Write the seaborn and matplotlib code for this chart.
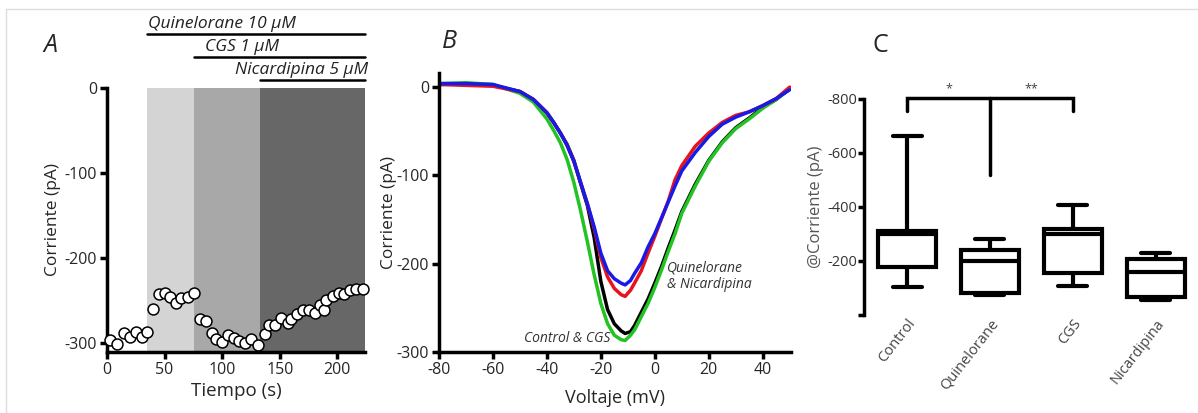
import numpy as np
import pandas as pd
import matplotlib
matplotlib.use("Agg")
import matplotlib.pyplot as plt
from matplotlib.patches import Rectangle
import seaborn as sns

# ---------------- data ----------------
# Panel A: time course
time_s = [3, 9, 15, 20, 25, 30, 35, 40, 45, 50, 55, 60, 64, 70, 75.5,
          81, 86, 91, 95, 100, 105, 110, 115, 120, 125, 131,
          137, 141, 146, 151, 157, 160, 165, 170, 175, 181, 185, 188,
          190, 196, 201, 206, 211, 216, 222]
current_pa = [-297, -301, -289, -293, -287, -293, -287, -260, -243, -241, -246, -253, -247, -246, -242,
              -272, -275, -289, -296, -299, -291, -295, -298, -300, -296, -303,
              -290, -279, -279, -271, -277, -272, -266, -262, -261, -265, -256, -261,
              -250, -245, -242, -243, -238, -237, -237]
treat_names = ["Quinelorane 10 µM", "CGS 1 µM", "Nicardipina 5 µM"]
treat_start = [35, 75.4, 132.5]
treat_end = 224

# Panel B: I-V curves
voltage_mv = [-80, -70, -60, -50, -45, -40, -37.5, -35, -32.5, -30, -27.5, -25, -22.5, -20,
              -17.5, -15, -12.5, -11, -9, -7.5, -5, -2.5, 0, 2.5, 5, 7.5, 10, 15, 20, 25,
              30, 35, 40, 45, 50]
iv_control = [3, 4, 2, -5, -14, -29, -40, -52, -65, -83, -109, -134, -170, -220,
              -252, -268, -276, -279, -277, -270, -255, -240, -222, -203, -182, -162, -141, -110, -83, -62,
              -46, -35, -23, -14, -2]
iv_cgs = [4, 5, 3, -7, -17, -36, -49, -63, -82, -108, -140, -175, -212, -245,
          -268, -281, -286, -287, -281, -275, -260, -245, -227, -207, -186, -166, -143, -112, -84, -63,
          -47, -36, -24, -14, -2]
iv_quin = [3, 2, 1, -5, -14, -29, -40, -52, -66, -84, -108, -132, -160, -193,
           -215, -228, -235, -237, -230, -222, -208, -188, -169, -149, -129, -105, -89, -67, -52, -40,
           -32, -28, -21, -13, 0]
iv_nica = [4, 4, 3, -5, -14, -29, -40, -52, -66, -84, -108, -132, -158, -188,
           -208, -217, -222, -224, -219, -211, -199, -181, -166, -148, -130, -112, -95, -74, -56, -42,
           -34, -28, -21, -13, -3]
iv_colors = ["black", "#22c322", "#e8141c", "#1a1ae6"]

# Panel C: box statistics (min, q1, median, q3, max)
groups = ["Control", "Quinelorane", "CGS", "Nicardipina"]
box_control = [-104, -179, -300, -312, -663]
box_quin = [-73, -80, -200, -241, -281]
box_cgs = [-108, -154, -299, -318, -409]
box_nica = [-57, -67, -160, -206, -231]
sig_labels = ["*", "**"]

# ---------------- style ----------------
sns.set_theme(style="ticks")
plt.rcParams["font.family"] = ["Open Sans", "DejaVu Sans"]
plt.rcParams["axes.unicode_minus"] = False

W, H = 1198, 413
fig = plt.figure(figsize=(W / 100, H / 100), dpi=100)
fig.patch.set_facecolor("white")
fig.patches.append(Rectangle((6 / W, -0.1), 1.2, 1 - 9 / H + 0.1, transform=fig.transFigure,
                             fill=False, ec="#dcdcdc", lw=1.0))


def px_axes(l, r, t, b):
    return fig.add_axes([l / W, 1 - b / H, (r - l) / W, (b - t) / H])


def style_axes(ax, lw=2.5):
    for s in ["top", "right"]:
        ax.spines[s].set_visible(False)
    for s in ["left", "bottom"]:
        ax.spines[s].set_linewidth(lw)
        ax.spines[s].set_color("black")
    ax.tick_params(width=lw, length=5, color="black", labelsize=11.5, pad=2)


# ---------------- Panel A ----------------
axA = px_axes(107, 365, 88, 352)
shades = ["#d4d4d4", "#a8a8a8", "#676767"]
for st, c in zip(treat_start, shades):
    axA.axvspan(st, treat_end, color=c, lw=0, zorder=0)
dfA = pd.DataFrame({"t": time_s, "i": current_pa})
sns.scatterplot(data=dfA, x="t", y="i", ax=axA, marker="o", s=62, color="white",
                edgecolor="black", linewidth=1.1, zorder=5, clip_on=False)
axA.set_xlim(0, 224)
axA.set_ylim(-311, 0)
axA.set_xticks([0, 50, 100, 150, 200])
axA.set_yticks([0, -100, -200, -300])
style_axes(axA)
axA.set_xlabel("Tiempo (s)", fontsize=13.5, labelpad=3)
axA.set_ylabel("Corriente (pA)", fontsize=12.5, labelpad=3)
trans = axA.get_xaxis_transform()
line_y = [(352 - 34) / 264, (352 - 57) / 264, (352 - 80) / 264]
text_x = [36, 85, 227]
text_ha = ["left", "left", "right"]
for name, st, ly, tx, ha in zip(treat_names, treat_start, line_y, text_x, text_ha):
    axA.plot([st, treat_end], [ly, ly], transform=trans, color="black", lw=1.8, clip_on=False)
    axA.text(tx, ly + 0.006, name, transform=trans, ha=ha, va="bottom", fontsize=12.5,
             style="italic", color="#222222")
fig.text(50 / W, 1 - 45 / H, "A", fontsize=18, style="italic", ha="center", va="center")

# ---------------- Panel B ----------------
axB = px_axes(439, 791, 73, 352)
dfB = pd.DataFrame({
    "v": voltage_mv * 4,
    "i": iv_control + iv_cgs + iv_quin + iv_nica,
    "cond": ["Control"] * len(voltage_mv) + ["CGS"] * len(voltage_mv)
            + ["Quinelorane"] * len(voltage_mv) + ["Nicardipina"] * len(voltage_mv),
})
sns.lineplot(data=dfB, x="v", y="i", hue="cond", palette=iv_colors, ax=axB,
             lw=2.5, legend=False, sort=False)
axB.set_xlim(-80, 50.5)
axB.set_ylim(-300, 16)
axB.set_xticks([-80, -60, -40, -20, 0, 20, 40])
axB.set_yticks([0, -100, -200, -300])
style_axes(axB)
axB.set_xlabel("Voltaje (mV)", fontsize=13, labelpad=8)
axB.set_ylabel("Corriente (pA)", fontsize=12.5, labelpad=0)
axB.text(4.5, -205, "Quinelorane", fontsize=10, style="italic", color="#333333", va="center")
axB.text(4.5, -224, "& Nicardipina", fontsize=10, style="italic", color="#333333", va="center")
axB.text(-16.5, -285, "Control & CGS", fontsize=10, style="italic", color="#333333",
         va="center", ha="right")
fig.text(449 / W, 1 - 42 / H, "B", fontsize=18, style="italic", ha="center", va="center")

# ---------------- Panel C ----------------
axC = px_axes(864, 1197, 99, 315)
dfC = pd.DataFrame({
    "grp": [g for g in groups for _ in range(5)],
    "val": box_control + box_quin + box_cgs + box_nica,
})
sns.boxplot(data=dfC, x="grp", y="val", order=groups, ax=axC, whis=(0, 100), width=0.7,
            color="white", linecolor="black", linewidth=3.0, showfliers=False, saturation=1)
axC.set_xlim(-0.52, 3.5)
axC.set_ylim(0, -800)
axC.set_yticks([-800, -600, -400, -200, 0])
axC.set_yticklabels(["-800", "-600", "-400", "-200", ""])
for s in ["top", "right", "bottom"]:
    axC.spines[s].set_visible(False)
axC.spines["left"].set_linewidth(2.5)
axC.spines["left"].set_color("black")
axC.tick_params(axis="y", width=2.5, length=4, color="black", labelsize=10.5, labelcolor="#333333", pad=1)
axC.tick_params(axis="x", length=0, labelsize=10.5, labelcolor="#444444", pad=1)
for lab in axC.get_xticklabels():
    lab.set_rotation(52)
    lab.set_ha("right")
    lab.set_rotation_mode("anchor")
axC.set_xlabel("")
axC.set_ylabel("@Corriente (pA)", fontsize=12, color="#555555", labelpad=2)
axC.plot([0, 0, 2, 2], [-757, -805, -805, -757], color="black", lw=2.5, clip_on=False,
         solid_joinstyle="miter")
axC.plot([1, 1], [-805, -517], color="black", lw=2.5, clip_on=False)
axC.text(0.5, -838, sig_labels[0], ha="center", va="center", fontsize=9, color="#444444")
axC.text(1.5, -838, sig_labels[1], ha="center", va="center", fontsize=9, color="#444444")
fig.text(880 / W, 1 - 45 / H, "C", fontsize=18, ha="center", va="center")

fig.savefig("out.png", dpi=100)
